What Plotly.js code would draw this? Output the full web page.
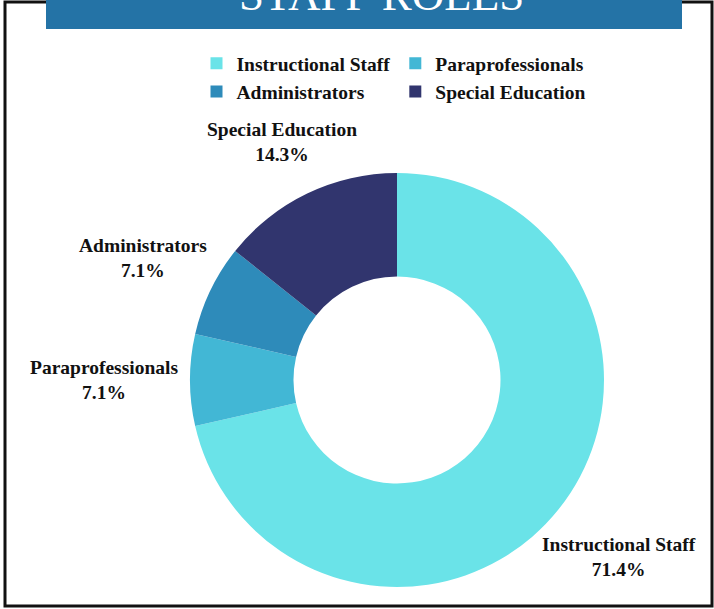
<!DOCTYPE html>
<html>
<head>
<meta charset="utf-8">
<script src="https://cdn.plot.ly/plotly-3.0.1.min.js"></script>
<style>html,body{margin:0;padding:0;background:#fff;}#chart{width:714px;height:609px;}</style>
</head>
<body>
<div id="chart"></div>
<script>
const categories = ["Instructional Staff", "Paraprofessionals", "Administrators", "Special Education"];
const staffCounts = [10, 1, 1, 2];
const sliceColors = ["#6ae3e8", "#42b7d5", "#2e8bba", "#31356e"];
const chartTitle = "STAFF ROLES";

const W = 714, H = 609;
const M = {l: 190, r: 110, t: 0, b: 0};
const PW = W - M.l - M.r, PH = H - M.t - M.b;
const px = x => (x - M.l) / PW;
const py = y => 1 - (y - M.t) / PH;

// pie geometry (pixels)
const cx = 397, cy = 380, r = 207;

const trace = {
  type: 'pie',
  labels: categories,
  values: staffCounts,
  marker: {colors: sliceColors, line: {width: 0}},
  hole: 0.5,
  sort: false,
  direction: 'clockwise',
  rotation: 0,
  textinfo: 'none',
  domain: {x: [px(cx - r), px(cx + r)], y: [py(cy + r), py(cy - r)]},
  hoverinfo: 'label+percent'
};

// outside labels positioned along each slice's mid-angle
const total = staffCounts.reduce((a, b) => a + b, 0);
const labelFont = {family: 'Liberation Serif', size: 19.5, color: '#111'};
const labelAnns = [];
let cum = 0;
categories.forEach((c, i) => {
  const mid = (cum + staffCounts[i] / 2) / total * 2 * Math.PI;
  cum += staffCounts[i];
  const dx = Math.sin(mid), dy = -Math.cos(mid);
  const ext = 1 / Math.sqrt(Math.pow(dx / 76, 2) + Math.pow(dy / 44, 2));
  const D = 217 + ext + (dy > 0.1 ? 10 : 0);
  const pct = (staffCounts[i] / total * 100).toFixed(1) + '%';
  labelAnns.push({
    text: '<b>' + c + '</b><br><b>' + pct + '</b>',
    xref: 'paper', yref: 'paper',
    x: px(cx + D * dx), y: py(cy + D * dy),
    xanchor: 'center', yanchor: 'middle', align: 'center',
    showarrow: false, font: labelFont
  });
});

const layout = {
  width: W, height: H,
  margin: M,
  paper_bgcolor: '#ffffff',
  plot_bgcolor: '#ffffff',
  showlegend: true,
  legend: {
    orientation: 'h',
    x: px(394), xanchor: 'center',
    y: py(44), yanchor: 'top',
    font: {family: 'Liberation Serif', size: 19.5, color: '#111', weight: 'bold'},
    itemwidth: 30,
    traceorder: 'normal'
  },
  shapes: [
    {type: 'rect', xref: 'paper', yref: 'paper', x0: px(5), x1: px(712), y0: py(606), y1: py(2),
     line: {color: '#111', width: 3}, fillcolor: 'rgba(0,0,0,0)', layer: 'above'},
    {type: 'rect', xref: 'paper', yref: 'paper', x0: px(46), x1: px(682), y0: py(29), y1: py(-2),
     line: {width: 0}, fillcolor: '#2473a6', layer: 'above'}
  ],
  annotations: [
    {text: chartTitle, xref: 'paper', yref: 'paper', x: px(381), y: py(22),
     xanchor: 'center', yanchor: 'bottom', showarrow: false,
     font: {family: 'Liberation Serif', size: 45, color: '#ffffff'}}
  ].concat(labelAnns)
};

Plotly.newPlot('chart', [trace], layout, {displayModeBar: false, staticPlot: true});
</script>
</body>
</html>
